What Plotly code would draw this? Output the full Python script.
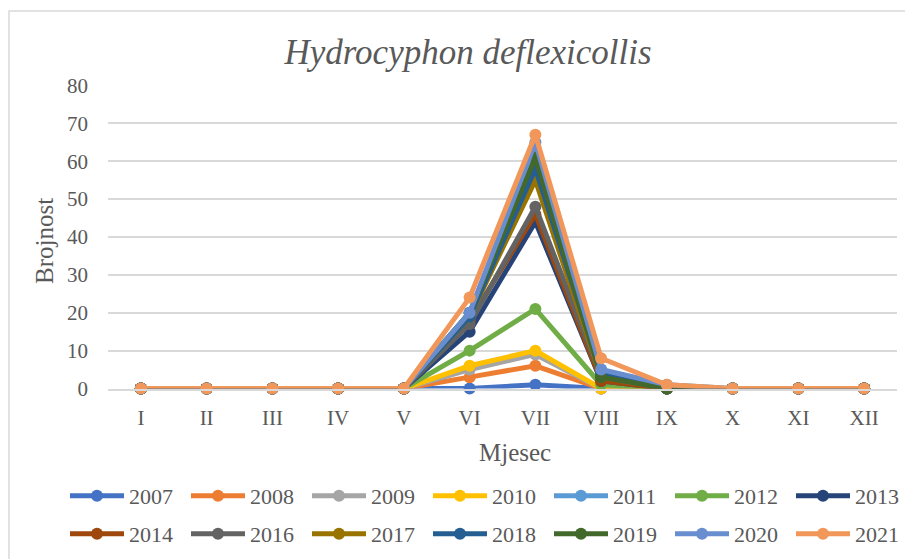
import plotly.graph_objects as go

months = ["I", "II", "III", "IV", "V", "VI", "VII", "VIII", "IX", "X", "XI", "XII"]
years = ["2007", "2008", "2009", "2010", "2011", "2012", "2013",
         "2014", "2016", "2017", "2018", "2019", "2020", "2021"]

v2007 = [0, 0, 0, 0, 0, 0, 1, 0, 0, 0, 0, 0]
v2008 = [0, 0, 0, 0, 0, 3, 6, 0, 0, 0, 0, 0]
v2009 = [0, 0, 0, 0, 0, 5, 9, 0, 0, 0, 0, 0]
v2010 = [0, 0, 0, 0, 0, 6, 10, 0, 0, 0, 0, 0]
v2011 = [0, 0, 0, 0, 0, 20, 63, 5, 0, 0, 0, 0]
v2012 = [0, 0, 0, 0, 0, 10, 21, 1, 0, 0, 0, 0]
v2013 = [0, 0, 0, 0, 0, 15, 44, 2, 0, 0, 0, 0]
v2014 = [0, 0, 0, 0, 0, 18, 46, 2, 0, 0, 0, 0]
v2016 = [0, 0, 0, 0, 0, 17, 48, 3, 0, 0, 0, 0]
v2017 = [0, 0, 0, 0, 0, 19, 55, 3, 0, 0, 0, 0]
v2018 = [0, 0, 0, 0, 0, 19, 58, 4, 0, 0, 0, 0]
v2019 = [0, 0, 0, 0, 0, 20, 61, 3, 0, 0, 0, 0]
v2020 = [0, 0, 0, 0, 0, 20, 65, 5, 1, 0, 0, 0]
v2021 = [0, 0, 0, 0, 0, 24, 67, 8, 1, 0, 0, 0]

series = [v2007, v2008, v2009, v2010, v2011, v2012, v2013,
          v2014, v2016, v2017, v2018, v2019, v2020, v2021]
colors = ["#4472C4", "#ED7D31", "#A5A5A5", "#FFC000", "#5B9BD5", "#70AD47", "#264478",
          "#9E480E", "#636363", "#997300", "#255E91", "#43682B", "#698ED0", "#F1975A"]

FONT = "Liberation Serif, Times New Roman, serif"
GREY = "#595959"
W, H = 913, 559
OFF = 8  # page body margin offset in the rendered screenshot


def px(x):
    return (x - OFF) / W


def py(y):
    return 1 - (y - OFF) / H


fig = go.Figure()
for i, (name, vals, col) in enumerate(zip(years, series, colors)):
    fig.add_trace(go.Scatter(
        x=months, y=vals, name=name, mode="lines+markers",
        line=dict(color=col, width=5),
        marker=dict(color=col, size=12),
        cliponaxis=False,
        legend="legend" if i < 7 else "legend2",
    ))

legend_common = dict(
    orientation="h", xanchor="left", yanchor="middle",
    font=dict(family=FONT, size=22, color=GREY),
    itemwidth=54, entrywidth=52, bgcolor="rgba(0,0,0,0)",
    traceorder="normal",
)

fig.update_layout(
    width=W, height=H,
    margin=dict(l=0, r=0, t=0, b=0, autoexpand=False),
    paper_bgcolor="white", plot_bgcolor="white",
    font=dict(family=FONT, color=GREY),
    title=dict(text="Hydrocyphon deflexicollis", x=px(468), xref="paper",
               y=py(52), yref="paper", xanchor="center", yanchor="middle",
               font=dict(family=FONT, size=35, color=GREY, style="italic")),
    xaxis=dict(type="category", range=[-0.5, 11.5], showgrid=False,
               domain=[px(108), px(897)],
               showline=True, linecolor="#D9D9D9", linewidth=1.5,
               ticks="", ticklabelstandoff=10, automargin=False,
               tickfont=dict(family=FONT, size=21, color=GREY)),
    yaxis=dict(range=[0, 80], dtick=10, showgrid=True, gridcolor="#D9D9D9",
               domain=[py(388.5), py(85.5)],
               gridwidth=1.5, zeroline=False, showline=False, ticks="",
               ticklabelstandoff=19, automargin=False,
               tickfont=dict(family=FONT, size=21, color=GREY)),
    legend=dict(x=px(65), y=py(496), **legend_common),
    legend2=dict(x=px(65), y=py(534), **legend_common),
    annotations=[
        dict(text="Brojnost", x=px(45), y=py(241), xref="paper", yref="paper",
             showarrow=False, textangle=-90, xanchor="center", yanchor="middle",
             font=dict(family=FONT, size=25, color=GREY)),
        dict(text="Mjesec", x=px(515), y=py(452), xref="paper", yref="paper",
             showarrow=False, xanchor="center", yanchor="middle",
             font=dict(family=FONT, size=25, color=GREY)),
    ],
    shapes=[dict(type="rect", xref="paper", yref="paper",
                 x0=px(9), x1=1.2, y0=-0.2, y1=py(11),
                 line=dict(color="#D9D9D9", width=1.5), layer="below")],
)

fig.write_html("out.html")
